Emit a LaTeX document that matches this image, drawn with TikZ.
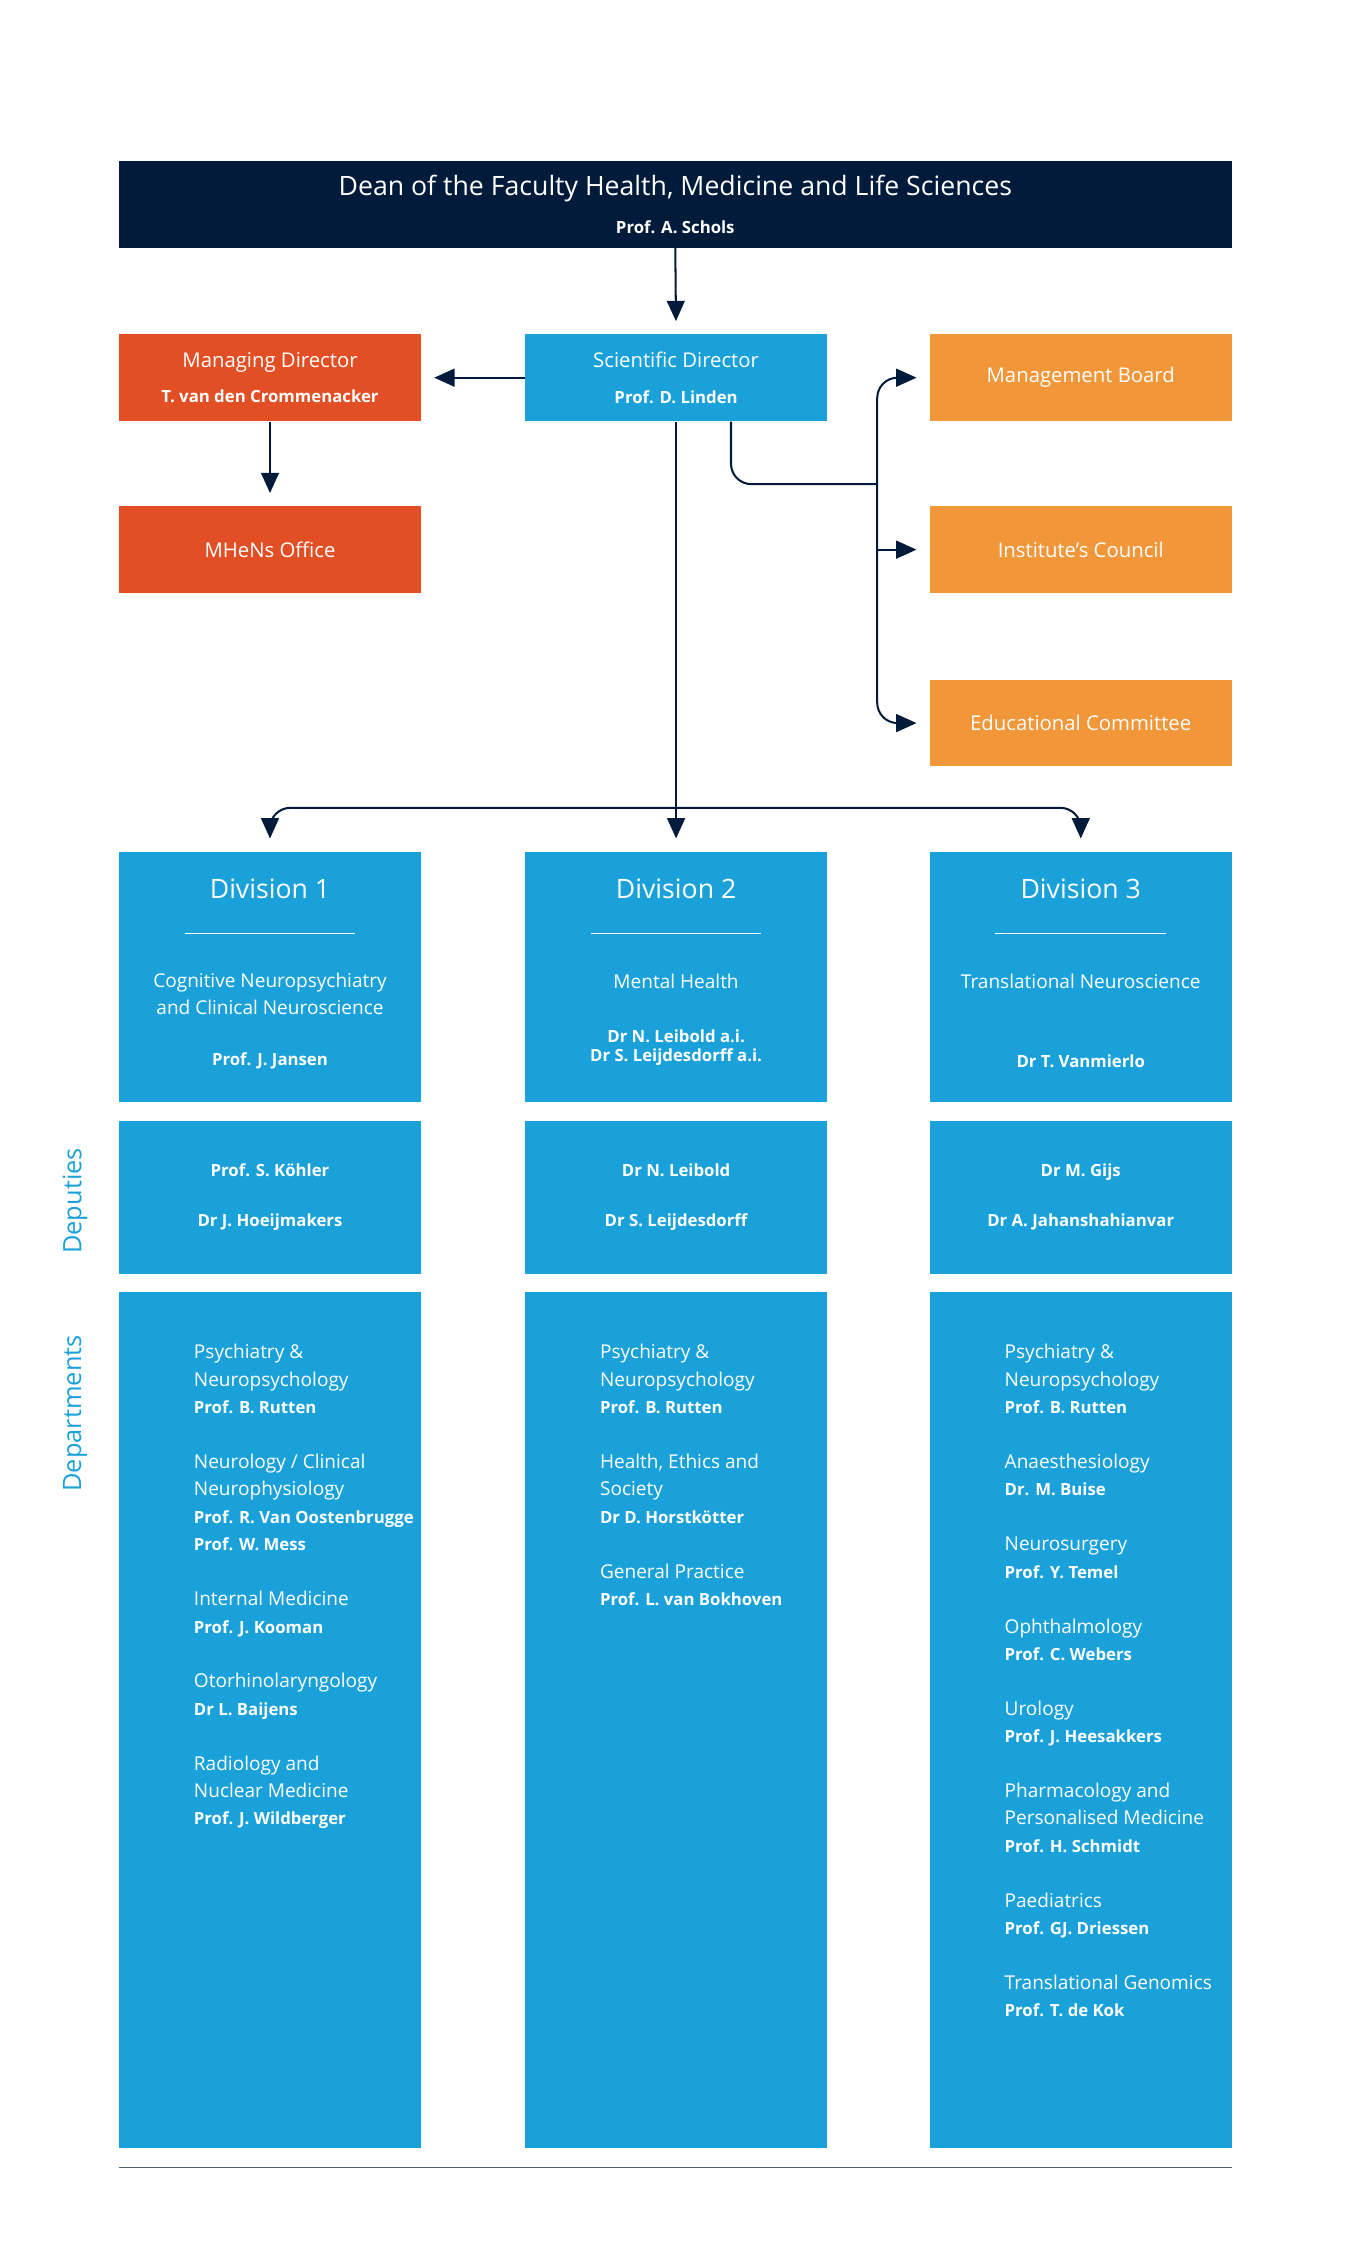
\documentclass[tikz,border=0pt]{standalone}
\usepackage{fontspec}
\setmainfont{Open Sans}
\usepackage{tikz}
\usetikzlibrary{arrows.meta,positioning,calc}
\definecolor{umnavy}{HTML}{021B3A}
\definecolor{umblue}{HTML}{1BA1DA}
\definecolor{umred}{HTML}{E34F25}
\definecolor{umorange}{HTML}{F2963A}
\newcommand{\nm}[1]{{\fontsize{6.6}{10}\selectfont\bfseries #1}}

\begin{document}
\begin{tikzpicture}[x=0.02cm,y=-0.02cm,
    box/.style={fill=#1,text=white,inner sep=0pt,anchor=north west,
      minimum width=4.18cm,minimum height=1.2cm,align=center,
      font=\fontsize{8}{14}\selectfont},
    link/.style={umnavy,thick,-{Triangle[length=8pt,width=7pt]},shorten >=5pt},
    line/.style={umnavy,thick},
    txt/.style={text=white,align=center,font=\fontsize{7.5}{10.6}\selectfont},
    dept/.style={text=white,align=left,anchor=north west,font=\fontsize{7.5}{10.8}\selectfont},
    side/.style={text=umblue,rotate=90,font=\fontsize{10}{12}\selectfont}]
\useasboundingbox (0,0) rectangle (935,1568);

% top level
\node[box=umnavy,minimum width=15.4cm,font=\fontsize{10.5}{15}\selectfont] (dean) at (82,111)
  {Dean of the Faculty Health, Medicine and Life Sciences\\\nm{Prof. A. Schols}};
\node[box=umred] (mgr) at (82,231) {Managing Director\\\nm{T. van den Crommenacker}};
\node[box=umblue] (sci) at (363,231) {Scientific Director\\\nm{Prof. D. Linden}};
\node[box=umorange] (board) at (643,231) {Management Board};
\node[box=umred] (office) at (82,350) {MHeNs Office};
\node[box=umorange] (council) at (643,350) {Institute's Council};
\node[box=umorange] (edu) at (643,470) {Educational Committee};

% divisions, deputies, departments
\foreach \i/\x in {1/82,2/363,3/643} {
  \node[box=umblue,minimum height=3.46cm] (div\i) at (\x,589) {};
  \node[box=umblue,minimum height=2.12cm] (dep\i) at (\x,775) {};
  \node[box=umblue,minimum height=11.84cm] (dpt\i) at (\x,894) {};
  \node[txt,font=\fontsize{10.5}{12}\selectfont] (divt\i) at ($(div\i.north)+(0,26)$) {Division \i};
  \draw[white,thin] ($(div\i.north)+(-59,57)$) -- ($(div\i.north)+(59,57)$);
}
\node[txt] (div1a) at ($(div1.north)+(0,99)$) {Cognitive Neuropsychiatry\\and Clinical Neuroscience};
\node[txt] (div1b) at ($(div1.north)+(0,145)$) {\nm{Prof. J. Jansen}};
\node[txt] (div2a) at ($(div2.north)+(0,90)$) {Mental Health};
\node[txt] (div2b) at ($(div2.north)+(0,136)$) {\nm{Dr N. Leibold a.i.}\\[-3pt]\nm{Dr S. Leijdesdorff a.i.}};
\node[txt] (div3a) at ($(div3.north)+(0,90)$) {Translational Neuroscience};
\node[txt] (div3b) at ($(div3.north)+(0,145)$) {\nm{Dr T. Vanmierlo}};

\node[txt] (dep1t) at (dep1.center) {\nm{Prof. S. Köhler}\\[9pt]\nm{Dr J. Hoeijmakers}};
\node[txt] (dep2t) at (dep2.center) {\nm{Dr N. Leibold}\\[9pt]\nm{Dr S. Leijdesdorff}};
\node[txt] (dep3t) at (dep3.center) {\nm{Dr M. Gijs}\\[9pt]\nm{Dr A. Jahanshahianvar}};

\node[dept] (dpt1t) at ($(dpt1.north west)+(46,30)$) {Psychiatry \&\\Neuropsychology\\\nm{Prof. B. Rutten}\\[10.8pt]
  Neurology / Clinical\\Neurophysiology\\\nm{Prof. R. Van Oostenbrugge}\\\nm{Prof. W. Mess}\\[10.8pt]
  Internal Medicine\\\nm{Prof. J. Kooman}\\[10.8pt]
  Otorhinolaryngology\\\nm{Dr L. Baijens}\\[10.8pt]
  Radiology and\\Nuclear Medicine\\\nm{Prof. J. Wildberger}};
\node[dept] (dpt2t) at ($(dpt2.north west)+(46,30)$) {Psychiatry \&\\Neuropsychology\\\nm{Prof. B. Rutten}\\[10.8pt]
  Health, Ethics and\\Society\\\nm{Dr D. Horstkötter}\\[10.8pt]
  General Practice\\\nm{Prof. L. van Bokhoven}};
\node[dept] (dpt3t) at ($(dpt3.north west)+(46,30)$) {Psychiatry \&\\Neuropsychology\\\nm{Prof. B. Rutten}\\[10.8pt]
  Anaesthesiology\\\nm{Dr. M. Buise}\\[10.8pt]
  Neurosurgery\\\nm{Prof. Y. Temel}\\[10.8pt]
  Ophthalmology\\\nm{Prof. C. Webers}\\[10.8pt]
  Urology\\\nm{Prof. J. Heesakkers}\\[10.8pt]
  Pharmacology and\\Personalised Medicine\\\nm{Prof. H. Schmidt}\\[10.8pt]
  Paediatrics\\\nm{Prof. GJ. Driessen}\\[10.8pt]
  Translational Genomics\\\nm{Prof. T. de Kok}};

\node[side] (deputies) at (52,831) {Deputies};
\node[side] (departments) at (52,978) {Departments};

% connectors
\coordinate (hub) at (607,335);
\coordinate (split) at (467,559);
\draw[link] (dean.south) -- (sci.north);
\draw[link] (sci.west) -- (mgr.east);
\draw[link] (mgr.south) -- (office.north);
\draw[line,rounded corners=8pt] ($(sci.south)+(38,0)$) |- (hub);
\draw[link,rounded corners=8pt] (hub) |- (board.west);
\draw[link,rounded corners=8pt] (hub) |- (edu.west);
\draw[link] (hub |- council.west) -- (council.west);
\draw[link] (sci.south) -- (div2.north);
\draw[link,rounded corners=8pt] (split) -| (div1.north);
\draw[link,rounded corners=8pt] (split) -| (div3.north);
\draw[umnavy!70,thin] (dpt1.south west)+(0,13) -- ($(dpt3.south east)+(0,13)$);
\end{tikzpicture}
\end{document}
